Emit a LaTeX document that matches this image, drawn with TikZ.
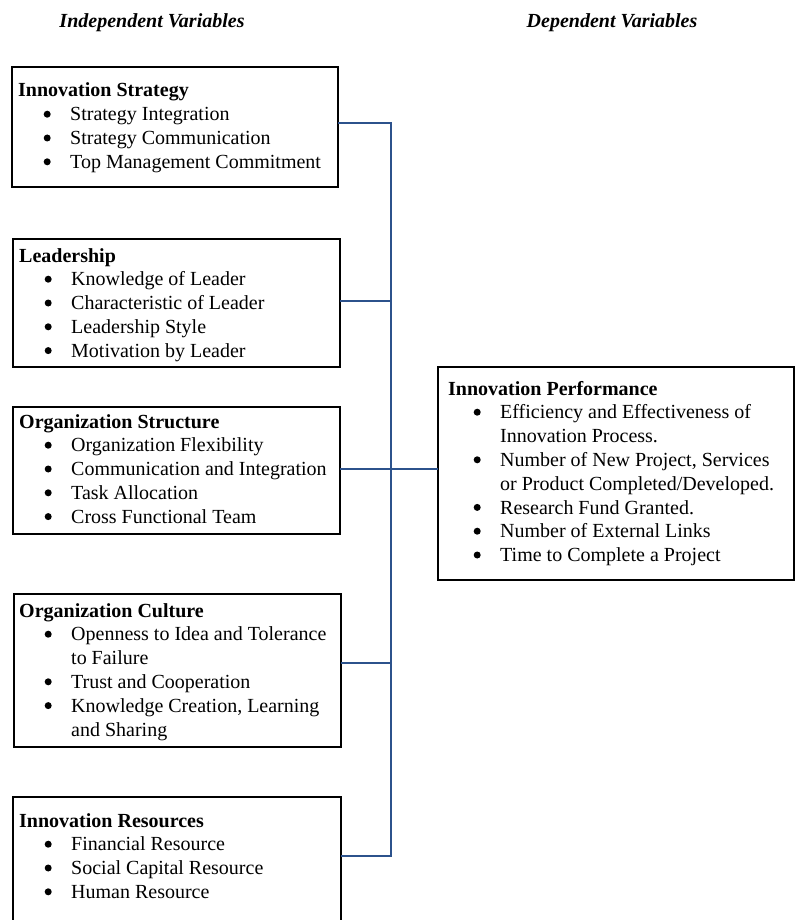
\documentclass[tikz,border=0pt]{standalone}
\usepackage{fontspec}
\setmainfont{Liberation Serif}
\definecolor{busblue}{RGB}{44,82,140}
\newcommand{\itm}{\makebox[52pt][l]{\hspace{25.5pt}\tikz[baseline=0pt]\fill (3.5pt,6.6pt) circle (3.5pt);}}
\newcommand{\cnt}{\hspace*{52pt}}
\tikzset{box/.style={draw, line width=1.2pt, inner sep=0pt, outer sep=0pt},
	txt/.style={anchor=base west, inner sep=0pt, font=\fontsize{20}{23.8}\selectfont},
	head/.style={anchor=base, inner sep=0pt, font=\fontsize{20}{24}\selectfont\bfseries\itshape},
	bus/.style={draw=busblue, line width=2.4pt, line join=miter}}

\begin{document}
\begin{tikzpicture}[x=1pt, y=-1pt]
			\useasboundingbox (0,0) rectangle (795,920);
			\clip (0,0) rectangle (795,920);
			\node [head] (iv) at (152,28) {Independent Variables};
			\node [head] (dv) at (612,28) {Dependent Variables};
			\node [box, minimum width=326pt, minimum height=120pt] (0) at (175,127) {};
			\node [box, minimum width=327pt, minimum height=128pt] (1) at (176.5,303) {};
			\node [box, minimum width=327pt, minimum height=127pt] (2) at (176.5,470.5) {};
			\node [box, minimum width=327pt, minimum height=153pt] (3) at (177.5,670.5) {};
			\node [box, minimum width=328pt, minimum height=140pt] (4) at (177,867) {};
			\node [box, minimum width=356pt, minimum height=213pt] (5) at (616,473.5) {};
			\node [txt] (t0) at (18,97) {\begin{tabular}[t]{@{}l@{}}
				\textbf{Innovation Strategy}\\
				\itm Strategy Integration\\
				\itm Strategy Communication\\
				\itm Top Management Commitment
			\end{tabular}};
			\node [txt] (t1) at (19,262) {\begin{tabular}[t]{@{}l@{}}
				\textbf{Leadership}\\
				\itm Knowledge of Leader\\
				\itm Characteristic of Leader\\
				\itm Leadership Style\\
				\itm Motivation by Leader
			\end{tabular}};
			\node [txt] (t2) at (19,428) {\begin{tabular}[t]{@{}l@{}}
				\textbf{Organization Structure}\\
				\itm Organization Flexibility\\
				\itm Communication and Integration\\
				\itm Task Allocation\\
				\itm Cross Functional Team
			\end{tabular}};
			\node [txt] (t3) at (19,617) {\begin{tabular}[t]{@{}l@{}}
				\textbf{Organization Culture}\\
				\itm Openness to Idea and Tolerance\\
				\cnt to Failure\\
				\itm Trust and Cooperation\\
				\itm Knowledge Creation, Learning\\
				\cnt and Sharing
			\end{tabular}};
			\node [txt] (t4) at (19,827) {\begin{tabular}[t]{@{}l@{}}
				\textbf{Innovation Resources}\\
				\itm Financial Resource\\
				\itm Social Capital Resource\\
				\itm Human Resource
			\end{tabular}};
			\node [txt] (t5) at (448,395) {\begin{tabular}[t]{@{}l@{}}
				\textbf{Innovation Performance}\\
				\itm Efficiency and Effectiveness of\\
				\cnt Innovation Process.\\
				\itm Number of New Project, Services\\
				\cnt or Product Completed/Developed.\\
				\itm Research Fund Granted.\\
				\itm Number of External Links\\
				\itm Time to Complete a Project
			\end{tabular}};
			\coordinate (j0) at (391,123);
			\coordinate (j1) at (391,301);
			\coordinate (j2) at (391,469);
			\coordinate (j3) at (391,663);
			\coordinate (j4) at (391,856);
			\draw [bus] (0.east |- j0) to (j0) to (j4) to (4.east |- j4);
			\draw [bus] (1.east |- j1) to (j1);
			\draw [bus] (2.east |- j2) to (5.west |- j2);
			\draw [bus] (3.east |- j3) to (j3);
		\end{tikzpicture}
\end{document}
